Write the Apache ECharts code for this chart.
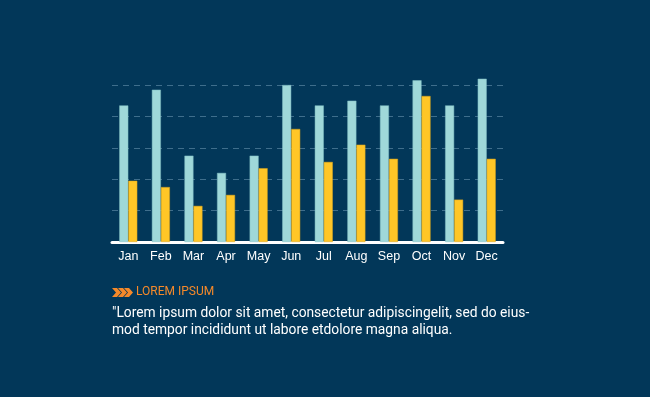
<!DOCTYPE html>
<html>
<head>
<meta charset="utf-8">
<script src="https://cdn.jsdelivr.net/npm/echarts@6/dist/echarts.min.js"></script>
<style>
  html, body { margin: 0; padding: 0; background: #023759; }
  #chart { width: 650px; height: 397px; }
</style>
</head>
<body>
<div id="chart"></div>
<script>
// 月份
const months = ["Jan", "Feb", "Mar", "Apr", "May", "Jun", "Jul", "Aug", "Sep", "Oct", "Nov", "Dec"];
// 浅蓝柱
const tealValues = [87, 97, 55, 44, 55, 100, 87, 90, 87, 103, 87, 104];
// 黄色柱
const yellowValues = [39, 35, 23, 30, 47, 72, 51, 62, 53, 93, 27, 53];

const chart = echarts.init(document.getElementById("chart"));

// 箭头图标
const chevron = (x) => ({
  type: "polygon",
  shape: { points: [[x, 288], [x + 5, 288], [x + 9, 292.5], [x + 5, 297], [x, 297], [x + 4, 292.5]] },
  style: { fill: "#f5892a" }
});

const option = {
  backgroundColor: "#023759",
  animation: false,
  grid: { left: 112, right: 147, top: 85, bottom: 155 },
  xAxis: {
    type: "category",
    data: months,
    axisLine: { show: true, lineStyle: { color: "#ffffff", width: 3 } },
    axisTick: { show: false },
    axisLabel: { color: "#ffffff", fontSize: 12.5, fontFamily: "Liberation Sans", margin: 8 }
  },
  yAxis: {
    type: "value",
    min: 0,
    max: 100,
    interval: 20,
    axisLine: { show: false },
    axisTick: { show: false },
    axisLabel: { show: false },
    splitLine: { lineStyle: { color: "#3f6e8c", type: [6, 5], width: 1 } }
  },
  series: [
    {
      type: "bar",
      data: tealValues,
      barWidth: 9,
      barGap: "0%",
      clip: false,
      itemStyle: { color: "#9fd8d9", borderColor: "#7fbcc2", borderWidth: 0.5 }
    },
    {
      type: "bar",
      data: yellowValues,
      barWidth: 9,
      barGap: "0%",
      clip: false,
      itemStyle: { color: "#ffc627", borderColor: "#d9a21c", borderWidth: 0.5 }
    }
  ],
  graphic: [
    chevron(112),
    chevron(118),
    chevron(124),
    {
      type: "text",
      left: 136,
      top: 286,
      style: { text: "LOREM IPSUM", fill: "#f5892a", font: "12px Roboto" }
    },
    {
      type: "text",
      left: 112,
      top: 305,
      style: {
        text: "\"Lorem ipsum dolor sit amet, consectetur adipiscingelit, sed do eius-\nmod tempor incididunt ut labore etdolore magna aliqua.",
        fill: "#ffffff",
        font: "13.8px Roboto",
        lineHeight: 17
      }
    }
  ]
};

chart.setOption(option);
window.addEventListener("resize", () => chart.resize());
</script>
</body>
</html>
